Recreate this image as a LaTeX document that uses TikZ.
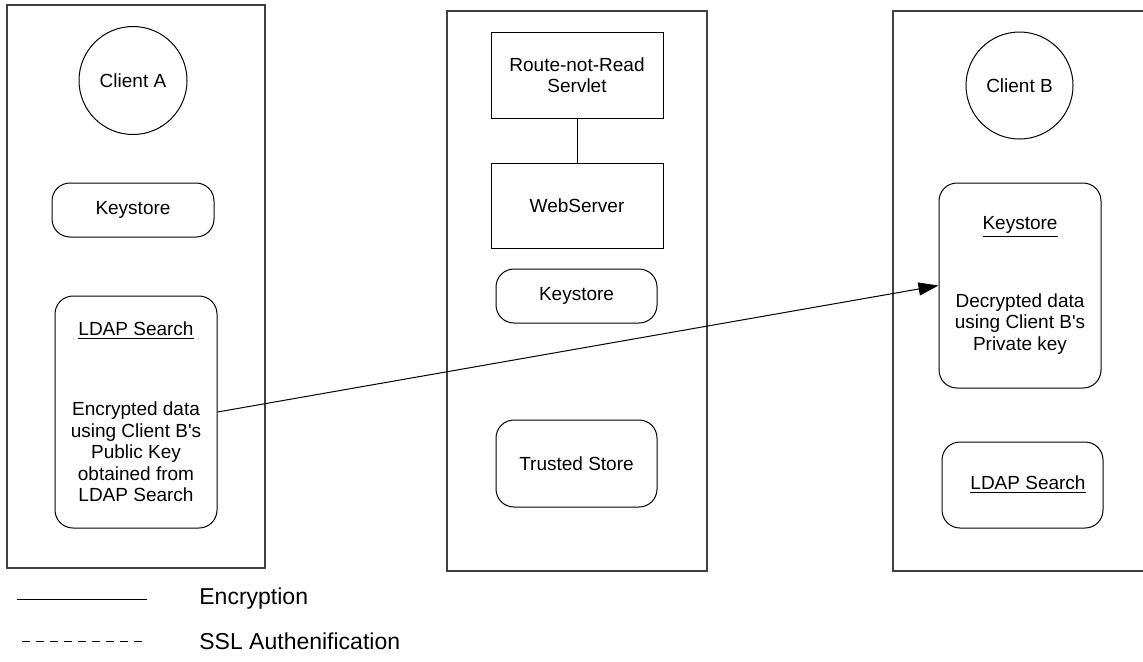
\documentclass[tikz,border=0pt]{standalone}
\usepackage{fontspec}
\setmainfont{Liberation Sans}
\usepackage{tikz}
\usetikzlibrary{arrows.meta,positioning}
\tikzset{
  panel/.style={draw=black!75, line width=0.6pt, minimum width=129pt, inner sep=0pt},
  sqbox/.style={draw=black, line width=0.5pt, align=center, inner sep=0pt, minimum width=86pt},
  rbox/.style={draw=black, line width=0.5pt, rounded corners=9pt, align=center, inner sep=0pt, minimum width=81pt},
  client/.style={draw=black, line width=0.5pt, circle, minimum size=54pt, inner sep=0pt},
  legtext/.style={anchor=west, inner sep=0pt, font=\fontsize{11.5pt}{13pt}\selectfont},
  arrow/.style={-{Triangle[length=10pt,width=6.5pt]}, line width=0.5pt},
  plain/.style={line width=0.5pt},
  dashedline/.style={line width=0.5pt, dash pattern=on 4pt off 3pt}
}

\begin{document}
\begin{tikzpicture}[x=0.5pt, y=-0.5pt, font=\fontsize{9.5pt}{10.75pt}\selectfont]
\useasboundingbox (0,0) rectangle (1143,661);
% panels
\node[panel, minimum height=281.5pt] (panA) at (136,286.5) {};
\node[panel, minimum width=130pt, minimum height=280pt] (panM) at (577,291) {};
\node[panel, minimum height=280pt] (panB) at (1022,291) {};
% client A
\node[client] (cliA) at (133,80.5) {Client A};
\node[rbox, minimum height=27pt] (keyA) at (133,210) {Keystore};
\node[rbox, minimum height=116pt] (ldapA) at (136,412) {\underline{LDAP Search}\\[29.25pt]Encrypted data\\using Client B\textquotesingle s\\Public Key\\obtained from\\LDAP Search};
% server
\node[sqbox, minimum height=43pt] (servlet) at (577,75) {Route-not-Read\\Servlet};
\node[sqbox, minimum height=42.5pt, below=22pt of servlet] (web) {WebServer};
\node[rbox, minimum width=80.5pt, minimum height=27pt] (keyM) at (576.5,296) {Keystore};
\node[rbox, minimum width=80.5pt, minimum height=43.5pt] (trust) at (576.5,463.5) {Trusted Store};
\draw[plain] (servlet) -- (web);
% client B
\node[client, minimum size=53.5pt] (cliB) at (1019.5,85.5) {Client B};
\node[rbox, minimum height=102.5pt] (keyB) at (1020,285.5) {\underline{Keystore}\\[26.75pt]Decrypted data\\using Client B\textquotesingle s\\Private key};
\node[rbox, minimum width=80.5pt, minimum height=43pt] (ldapB) at (1022.5,485) {\hspace{5.5pt}\underline{LDAP Search}};
\draw[arrow] (ldapA.east) -- (keyB.west);
% legend
\coordinate (encL) at (17,599);
\coordinate (encR) at (147,599);
\coordinate (sslL) at (22,641);
\coordinate (sslR) at (147,641);
\draw[plain] (encL) -- (encR);
\draw[dashedline] (sslL) -- (sslR);
\node[legtext] (encT) at (199,599) {Encryption};
\node[legtext] (sslT) at (199,641) {SSL Authenification};
\end{tikzpicture}
\end{document}
